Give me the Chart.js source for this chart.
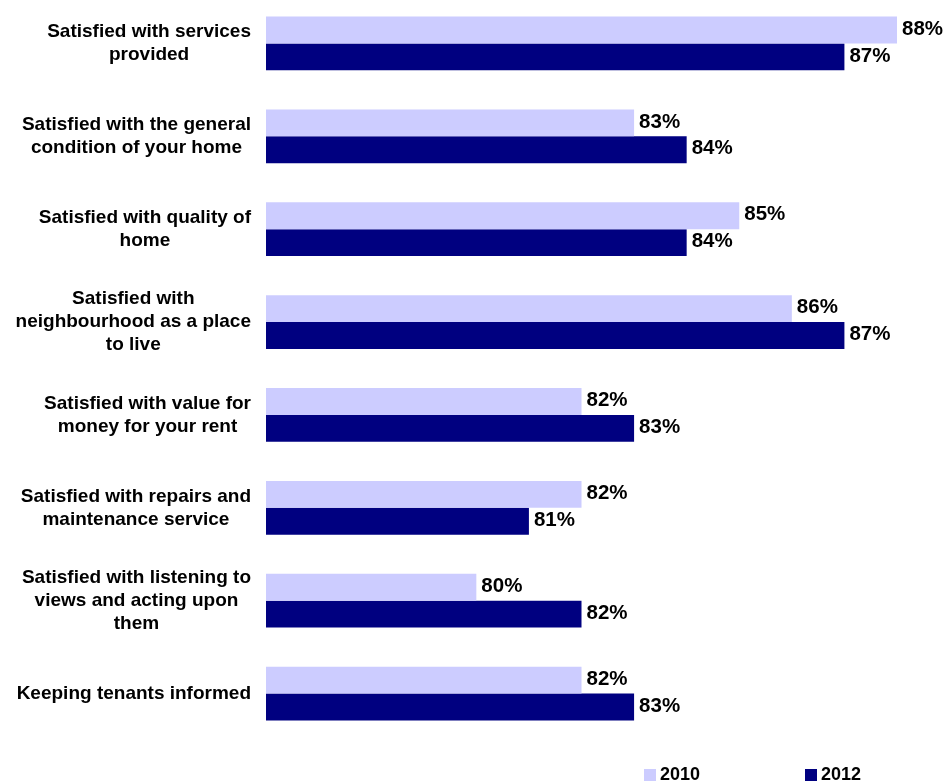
<!DOCTYPE html>
<html>
<head>
<meta charset="utf-8">
<script src="https://cdn.jsdelivr.net/npm/chart.js@4.4.1/dist/chart.umd.min.js"></script>
<style>
  html, body { margin: 0; padding: 0; background: #fff; }
  #wrap { position: relative; width: 947px; height: 783px; overflow: hidden; }
  #graficoBarras { position: absolute; top: -3px; left: 0; }
  #legenda { position: absolute; top: 766px; left: 0; width: 947px; height: 17px;
    font: bold 18px "Liberation Sans", Arial, sans-serif; color: #000; }
  #legenda .item { position: absolute; top: 0; white-space: nowrap; line-height: 17px; }
  #legenda .box { display: inline-block; width: 12px; height: 12px; margin-right: 4px; vertical-align: -1px; }
</style>
</head>
<body>
<div id="wrap">
  <canvas id="graficoBarras" width="947" height="786"></canvas>
  <div id="legenda"></div>
</div>
<script>
const categorias = [
    ['Satisfied with services', 'provided'],
    ['Satisfied with the general', 'condition of your home'],
    ['Satisfied with quality of', 'home'],
    ['Satisfied with', 'neighbourhood as a place', 'to live'],
    ['Satisfied with value for', 'money for your rent'],
    ['Satisfied with repairs and', 'maintenance service'],
    ['Satisfied with listening to', 'views and acting upon', 'them'],
    ['Keeping tenants informed']
];
const valores2010 = [88, 83, 85, 86, 82, 82, 80, 82];
const valores2012 = [87, 84, 84, 87, 83, 81, 82, 83];
const anos = ['2010', '2012'];
const cores = ['#ccccff', '#000080'];

const fonte = '"Liberation Sans", Arial, sans-serif';

// rótulos das categorias: bloco alinhado à direita, cada linha centralizada
const rotulosEixo = {
    id: 'rotulosEixo',
    afterDraw(chart) {
        const ctx = chart.ctx;
        const y = chart.scales.y;
        ctx.save();
        ctx.font = 'bold 19px ' + fonte;
        ctx.fillStyle = '#000';
        ctx.textAlign = 'center';
        ctx.textBaseline = 'middle';
        const alturaLinha = 23;
        categorias.forEach((linhas, i) => {
            const centroY = y.getPixelForTick(i);
            const larg = Math.max(...linhas.map(l => ctx.measureText(l).width));
            const cx = 251 - larg / 2;
            linhas.forEach((l, j) => {
                ctx.fillText(l, cx, centroY + (j - (linhas.length - 1) / 2) * alturaLinha);
            });
        });
        ctx.restore();
    }
};

// valor em % logo após o fim de cada barra
const rotulosValor = {
    id: 'rotulosValor',
    afterDatasetsDraw(chart) {
        const ctx = chart.ctx;
        ctx.save();
        ctx.font = 'bold 20.5px ' + fonte;
        ctx.fillStyle = '#000';
        ctx.textAlign = 'left';
        ctx.textBaseline = 'middle';
        chart.data.datasets.forEach((ds, d) => {
            chart.getDatasetMeta(d).data.forEach((barra, i) => {
                ctx.fillText(ds.data[i] + '%', barra.x + 5, barra.y - 1);
            });
        });
        ctx.restore();
    }
};

const ctxBarras = document.getElementById('graficoBarras').getContext('2d');
const grafico = new Chart(ctxBarras, {
    type: 'bar',
    data: {
        labels: categorias,
        datasets: [{
            label: anos[0],
            data: valores2010,
            backgroundColor: cores[0],
            borderWidth: 0
        }, {
            label: anos[1],
            data: valores2012,
            backgroundColor: cores[1],
            borderWidth: 0
        }]
    },
    options: {
        indexAxis: 'y',
        responsive: false,
        animation: false,
        layout: {
            padding: { top: 0, right: 50, bottom: 43, left: 0 }
        },
        datasets: {
            bar: { categoryPercentage: 0.58, barPercentage: 1 }
        },
        plugins: {
            legend: { display: false },
            tooltip: { enabled: false }
        },
        scales: {
            x: {
                display: false,
                min: 76,
                max: 88
            },
            y: {
                grid: { display: false },
                border: { display: false },
                ticks: { display: false },
                afterFit(scale) { scale.width = 266; }
            }
        }
    },
    plugins: [rotulosEixo, rotulosValor]
});

// legenda em HTML, montada a partir dos datasets
const legenda = document.getElementById('legenda');
const posLegenda = [644, 805];
grafico.data.datasets.forEach((ds, i) => {
    const item = document.createElement('div');
    item.className = 'item';
    item.style.left = posLegenda[i] + 'px';
    item.innerHTML = '<span class="box" style="background:' + ds.backgroundColor + '"></span>' + ds.label;
    legenda.appendChild(item);
});
</script>
</body>
</html>
